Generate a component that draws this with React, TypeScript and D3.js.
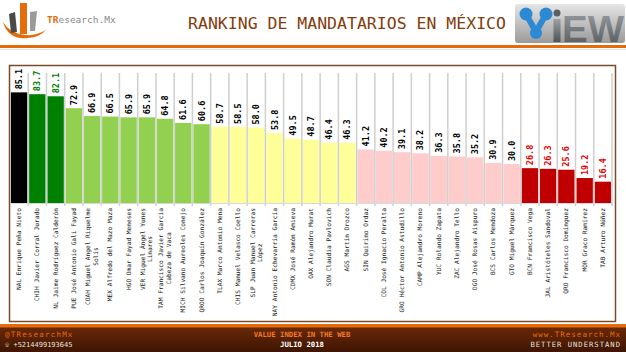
import React from "react";
import * as d3 from "d3";

// governors, "|" marks a line break in the axis label
const categories = [
  "NAL Enrique Peña Nieto", "CHIH Javier Corral Jurado", "NL Jaime Rodríguez Calderón",
  "PUE José Antonio Gali Fayad", "COAH Miguel Angel Riquelme|Solís", "MEX Alfredo del Mazo Maza",
  "HGO Omar Fayad Meneses", "VER Miguel Ángel Yunes|Linares", "TAM Francisco Javier García|Cabeza de Vaca",
  "MICH Silvano Aureoles Conejo", "QROO Carlos Joaquín González", "TLAX Marco Antonio Mena",
  "CHIS Manuel Velasco Coello", "SLP Juan Manuel Carreras|López", "NAY Antonio Echevarría García",
  "CDMX José Ramón Amieva", "OAX Alejandro Murat", "SON Claudia Pavlovich", "AGS Martín Orozco",
  "SIN Quirino Ordaz", "COL José Ignacio Peralta", "GRO Héctor Antonio Astudillo",
  "CAMP Alejandro Moreno", "YUC Rolando Zapata", "ZAC Alejandro Tello", "DGO José Rosas Aispuro",
  "BCS Carlos Mendoza", "GTO Miguel Márquez", "BCN Francisco Vega", "JAL Aristóteles Sandoval",
  "QRO Francisco Domínguez", "MOR Graco Ramírez", "TAB Arturo Núñez",
];
const values = [
  85.1, 83.7, 82.1, 72.9, 66.9, 66.5, 65.9, 65.9, 64.8, 61.6, 60.6, 58.7, 58.5, 58.0, 53.8, 49.5, 48.7,
  46.4, 46.3, 41.2, 40.2, 39.1, 38.2, 36.3, 35.8, 35.2, 30.9, 30.0, 26.8, 26.3, 25.6, 19.2, 16.4,
];
// colour group of each bar
const groups = [
  "top", "high", "high", "good", "good", "good", "good", "good", "good", "good", "good",
  "mid", "mid", "mid", "mid", "mid", "mid", "mid", "mid",
  "low", "low", "low", "low", "low", "low", "low", "low", "low",
  "bad", "bad", "bad", "bad", "bad",
];
const barColor: Record<string, string> = {
  top: "#000000", high: "#008000", good: "#92d050", mid: "#ffff99", low: "#ffcccc", bad: "#c00000",
};
const labelColor: Record<string, string> = {
  top: "#000", high: "#008000", good: "#000", mid: "#000", low: "#000", bad: "#e00000",
};

const W = 626;
const H = 352;
const mono = "'DejaVu Sans Mono', monospace";

export default function App() {
  const x = d3.scaleBand<string>().domain(categories).range([10, 612]).paddingInner(0.1).paddingOuter(0.05);
  const y = d3.scaleLinear().domain([0, 100]).range([203, 73]);
  const step = x.step();
  const bw = x.bandwidth();
  const catSize = 6.2;
  const charW = catSize * 0.602;

  return (
    <svg width={W} height={H} style={{ position: "absolute", left: 0, top: 0, background: "#fff" }}>
      <defs>
        <linearGradient id="foot" x1="0" y1="0" x2="0" y2="1">
          <stop offset="0" stopColor="#6e2b07" />
          <stop offset="1" stopColor="#3e1503" />
        </linearGradient>
        <linearGradient id="logo" x1="0" y1="0" x2="0" y2="1">
          <stop offset="0" stopColor="#e6e6e6" />
          <stop offset="1" stopColor="#9a9a9a" />
        </linearGradient>
        <linearGradient id="iew" x1="0" y1="0" x2="0" y2="1">
          <stop offset="0" stopColor="#9aa0a4" />
          <stop offset="1" stopColor="#4e5458" />
        </linearGradient>
      </defs>

      {/* header */}
      <g>
        <path d="M3,22 Q8,40 28,38 Q40,37 46,30 Q36,36 26,35 Q10,34 3,22Z" fill="#e46c0a" />
        <polygon points="9,14 15,12 17,32 11,33" fill="#4a4a4a" />
        <polygon points="20,3 27,3 27,34 20,34" fill="#e46c0a" />
        <polygon points="30,12 37,11 35,31 30,31" fill="#9a9a9a" />
        <text x={47} y={23} fontFamily={mono} fontSize={9.5} fill="#8a8a8a">
          <tspan fill="#e46c0a" fontWeight="bold">TR</tspan>esearch.Mx
        </text>
        <text x={347} y={29} textAnchor="middle" fontFamily={mono} fontSize={16.5} fill="#843c0c">
          RANKING DE MANDATARIOS EN MÉXICO
        </text>
        <rect x={515} y={4} width={110} height={39} rx={3} fill="url(#logo)" />
        <g stroke="#2c8ad4" strokeWidth={6} strokeLinecap="round">
          <line x1={526} y1={14} x2={536} y2={32} />
          <line x1={546} y1={14} x2={536} y2={32} />
        </g>
        <circle cx={526} cy={14} r={6.5} fill="#2c8ad4" />
        <circle cx={546} cy={14} r={6.5} fill="#2c8ad4" />
        <circle cx={536} cy={33} r={6} fill="#2c8ad4" />
        <circle cx={557} cy={13} r={3.5} fill="#5a5f63" />
        <rect x={553.5} y={19} width={7} height={23} fill="url(#iew)" />
        <text x={562} y={42} fontFamily="'Liberation Sans', sans-serif" fontWeight="bold" fontSize={36}
          fill="url(#iew)" textLength={62} lengthAdjust="spacingAndGlyphs">EW</text>
        <rect x={0} y={45} width={W} height={3} fill="#e46c0a" />
        <rect x={0} y={49} width={W} height={1} fill="#e0e0e0" />
      </g>

      {/* chart frame */}
      <rect x={9.5} y={65.5} width={606} height={256} fill="#fff" stroke="#7a4a2a" strokeWidth={1.5} />

      {/* bars */}
      {categories.map((c, i) => (
        <rect key={c} x={x(c)} y={y(values[i])} width={bw} height={y(0) - y(values[i])}
          fill={barColor[groups[i]]} />
      ))}

      {/* separators */}
      {categories.map((c) => (
        <line key={"g" + c} x1={(x(c) ?? 0) + bw + (step - bw) / 2} x2={(x(c) ?? 0) + bw + (step - bw) / 2}
          y1={73} y2={206} stroke="#cfcfcf" strokeWidth={1.5} />
      ))}
      <line x1={10} x2={612} y1={y(0) + 0.5} y2={y(0) + 0.5} stroke="#d8d8d8" />

      {/* value labels */}
      {categories.map((c, i) => {
        const cx = (x(c) ?? 0) + bw / 2 + 3;
        const ty = y(values[i]) - 3;
        return (
          <text key={"v" + c} transform={`translate(${cx},${ty}) rotate(-90)`} fontFamily={mono}
            fontWeight="bold" fontSize={8.5} fill={labelColor[groups[i]]}>
            {values[i].toFixed(1)}
          </text>
        );
      })}

      {/* category labels */}
      {categories.map((c) => {
        const lines = c.split("|");
        const maxLen = d3.max(lines, (l) => l.length) ?? 0;
        const cx = (x(c) ?? 0) + bw / 2;
        const top = 208;
        const mid = top + (maxLen * charW) / 2;
        const off = (lines.length - 1) * 3.6;
        return (
          <g key={"c" + c}>
            {lines.map((l, k) => (
              <text key={k} transform={`translate(${cx + 2 - off + k * 7.2},${mid}) rotate(-90)`}
                textAnchor="middle" fontFamily={mono} fontSize={catSize} fill="#222">
                {l}
              </text>
            ))}
          </g>
        );
      })}

      {/* footer */}
      <rect x={0} y={324} width={W} height={28} fill="url(#foot)" />
      <rect x={0} y={324} width={W} height={3.5} fill="#e46c0a" />
      <text x={5} y={337} fontFamily={mono} fontSize={7.5} fill="#e46c0a" letterSpacing={1.2}>@TResearchMx</text>
      <text x={5} y={347} fontFamily={mono} fontSize={7} fill="#e8e0d8">☏ +5214499193645</text>
      <text x={302} y={337} textAnchor="middle" fontFamily={mono} fontWeight="bold" fontSize={7.3} fill="#f07a2a">
        VALUE INDEX IN THE WEB
      </text>
      <text x={302} y={347} textAnchor="middle" fontFamily={mono} fontWeight="bold" fontSize={7.3} fill="#fff">
        JULIO 2018
      </text>
      <text x={621} y={337} textAnchor="end" fontFamily={mono} fontSize={7.5} fill="#e46c0a" letterSpacing={1.0}>
        www.TResearch.Mx
      </text>
      <text x={621} y={347} textAnchor="end" fontFamily={mono} fontSize={7.2} fill="#e8e0d8" letterSpacing={1.0}>
        BETTER UNDERSTAND
      </text>
    </svg>
  );
}
